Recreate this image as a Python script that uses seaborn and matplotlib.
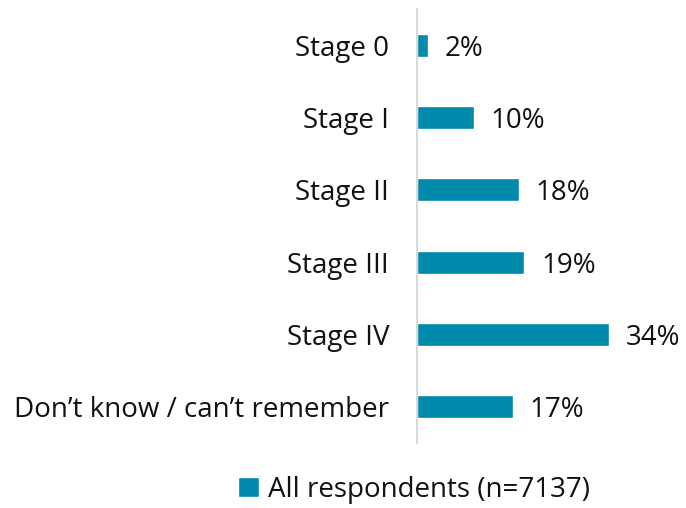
import matplotlib.pyplot as plt
import seaborn as sns
import pandas as pd

stages = ["Stage 0", "Stage I", "Stage II", "Stage III", "Stage IV",
          "Don\u2019t know / can\u2019t remember"]
pct = [2, 10, 18, 19, 34, 17]
series_name = "All respondents (n=7137)"

df = pd.DataFrame({"stage": stages, "pct": pct, "group": series_name})

sns.set_style("white")
plt.rcParams["font.family"] = ["Open Sans", "DejaVu Sans"]

fig = plt.figure(figsize=(6.86, 5.08), dpi=100)
ax = fig.add_axes([417 / 686, 1 - 443 / 508, 1 - 417 / 686, 434 / 508])

sns.barplot(data=df, x="pct", y="stage", hue="group", orient="h",
            palette=["#008AAB"], saturation=1, width=0.32, ax=ax)

for c in ax.containers:
    texts = ax.bar_label(c, labels=[f"{v}%" for v in pct], padding=12,
                         fontsize=20, color="#111111")
    # nudge the value labels down a touch, like the original
    for t in texts:
        x, y = t.xyann
        t.xyann = (x, y - 2.5)

ax.set_xlim(0, 47.6)
ax.set_ylim(5.5, -0.5)
ax.set_xlabel("")
ax.set_ylabel("")
ax.set_xticks([])
ax.tick_params(axis="y", length=0, pad=20, labelsize=20, labelcolor="#111111")
for s in ["top", "right", "bottom"]:
    ax.spines[s].set_visible(False)
ax.spines["left"].set_color("#d9d9d9")
ax.spines["left"].set_linewidth(1.5)

ax.legend(loc="center", bbox_to_anchor=(414 / 686, 1 - 490 / 508),
          bbox_transform=fig.transFigure, frameon=False, fontsize=20,
          handlelength=0.75, handleheight=0.75, handletextpad=0.3,
          labelcolor="#111111")

fig.savefig("out.png", dpi=100)
